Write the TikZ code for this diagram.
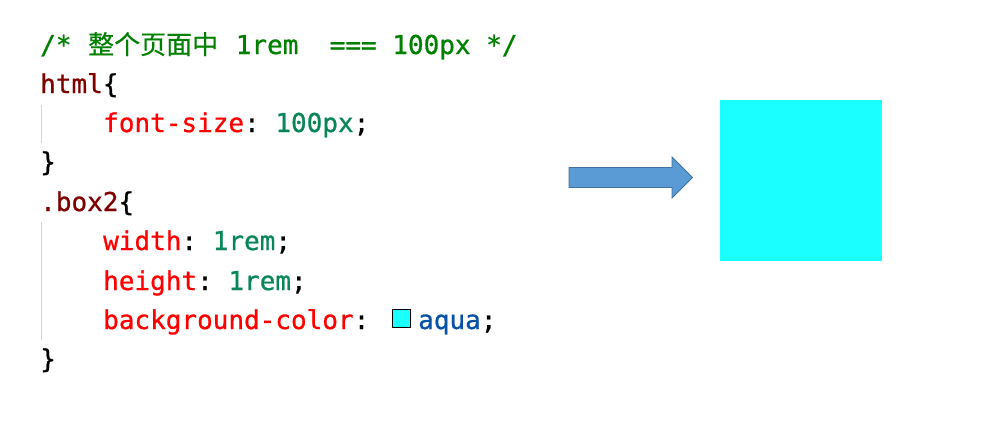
\documentclass[tikz,border=0pt]{standalone}
\usepackage{fontspec}
\setmonofont[FakeBold=0.8]{DejaVu Sans Mono}
\newfontfamily\cjk[FakeBold=0.4]{Noto Sans CJK SC}
\definecolor{cmt}{HTML}{008000}
\definecolor{sel}{HTML}{800000}
\definecolor{prop}{HTML}{FF0000}
\definecolor{num}{HTML}{098658}
\definecolor{val}{HTML}{0451A5}
\definecolor{aquab}{HTML}{1AFFFF}
\definecolor{arrowfill}{HTML}{5B9BD5}
\definecolor{arrowline}{HTML}{41719C}
\definecolor{guide}{HTML}{D6D6D6}
\newcommand{\codefont}{\ttfamily\fontsize{26}{30}\selectfont}
\tikzset{
  code/.style={anchor=base west, inner sep=0pt, font=\codefont},
  guideline/.style={draw=guide, line width=1pt},
  blockarrow/.style={fill=arrowfill, draw=arrowline, line width=0.8pt, line join=miter},
}
\begin{document}
\begin{tikzpicture}[x=1pt,y=-1pt]
\useasboundingbox (0,0) rectangle (992,423);
% code lines
\node[code] (l1) at (40,54) {\color{cmt}/*\ \hspace{1pt}{\cjk 整个页面中}\hspace{2pt}\ 1rem\ \ ===\ 100px\ */};
\node[code] (l2) at (40,93) {\color{sel}html\color{black}\{};
\node[code] (l3) at (103,132) {\color{prop}font-size\color{black}:\ \color{num}100px\color{black};};
\node[code] (l4) at (40,171) {\}};
\node[code] (l5) at (40,211) {\color{sel}.box2\color{black}\{};
\node[code] (l6) at (103,250) {\color{prop}width\color{black}:\ \color{num}1rem\color{black};};
\node[code] (l7) at (103,290) {\color{prop}height\color{black}:\ \color{num}1rem\color{black};};
\node[code] (l8) at (103,329) {\color{prop}background-color\color{black}:};
\node[code] (l8b) at (418,329) {\color{val}aqua\color{black};};
\node[code] (l9) at (40,368) {\}};
% colour swatch
\draw[fill=aquab, draw=black, line width=1.4pt] (392.5,309.5) rectangle (410.5,327.5);
% indent guides
\draw[guideline] (41,105) -- (41,143);
\draw[guideline] (41,222) -- (41,340);
% block arrow
\draw[blockarrow] (569,167.5) -- (672,167.5) -- (672,157) -- (692.5,177.5) -- (672,198) -- (672,187.5) -- (569,187.5) -- cycle;
% result box
\fill[aquab] (720,100) rectangle (882,261);
\end{tikzpicture}
\end{document}
